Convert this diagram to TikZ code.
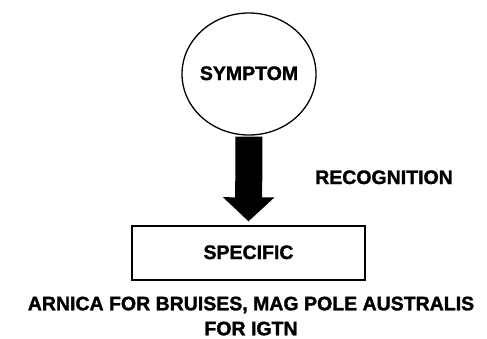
\documentclass[tikz,border=0pt]{standalone}
\usepackage{fontspec}
\setmainfont{Liberation Sans}[BoldFeatures={FakeBold=1.5}]
\usetikzlibrary{arrows.meta,shapes.geometric}

\begin{document}
\begin{tikzpicture}[x=1pt, y=-1pt, line width=1.3pt,
    lbl/.style={font=\fontsize{19.5}{25}\selectfont\bfseries, inner sep=0pt}]
  \useasboundingbox (0,0) rectangle (487,338);
  \node[draw, ellipse, minimum width=134pt, minimum height=122pt, inner sep=0pt] (symptom) at (249,74) {};
  \node[lbl, anchor=base] (symtxt) at (249,80) {SYMPTOM};
  \node[draw, rectangle, minimum width=233pt, minimum height=54pt, inner sep=0pt] (specific) at (248.5,253) {};
  \node[lbl, anchor=base] (spectxt) at (248.5,259) {SPECIFIC};
  \draw[line width=27pt, -{Triangle[width=50pt, length=24pt]}, shorten <=1pt, shorten >=4pt]
    (symptom.south) -- (specific.north);
  \node[lbl, anchor=base] (recog) at (384,184) {RECOGNITION};
  \node[lbl, align=center, anchor=north] (remedy) at (251,296) {ARNICA FOR BRUISES, MAG POLE AUSTRALIS\\FOR IGTN};
\end{tikzpicture}
\end{document}
